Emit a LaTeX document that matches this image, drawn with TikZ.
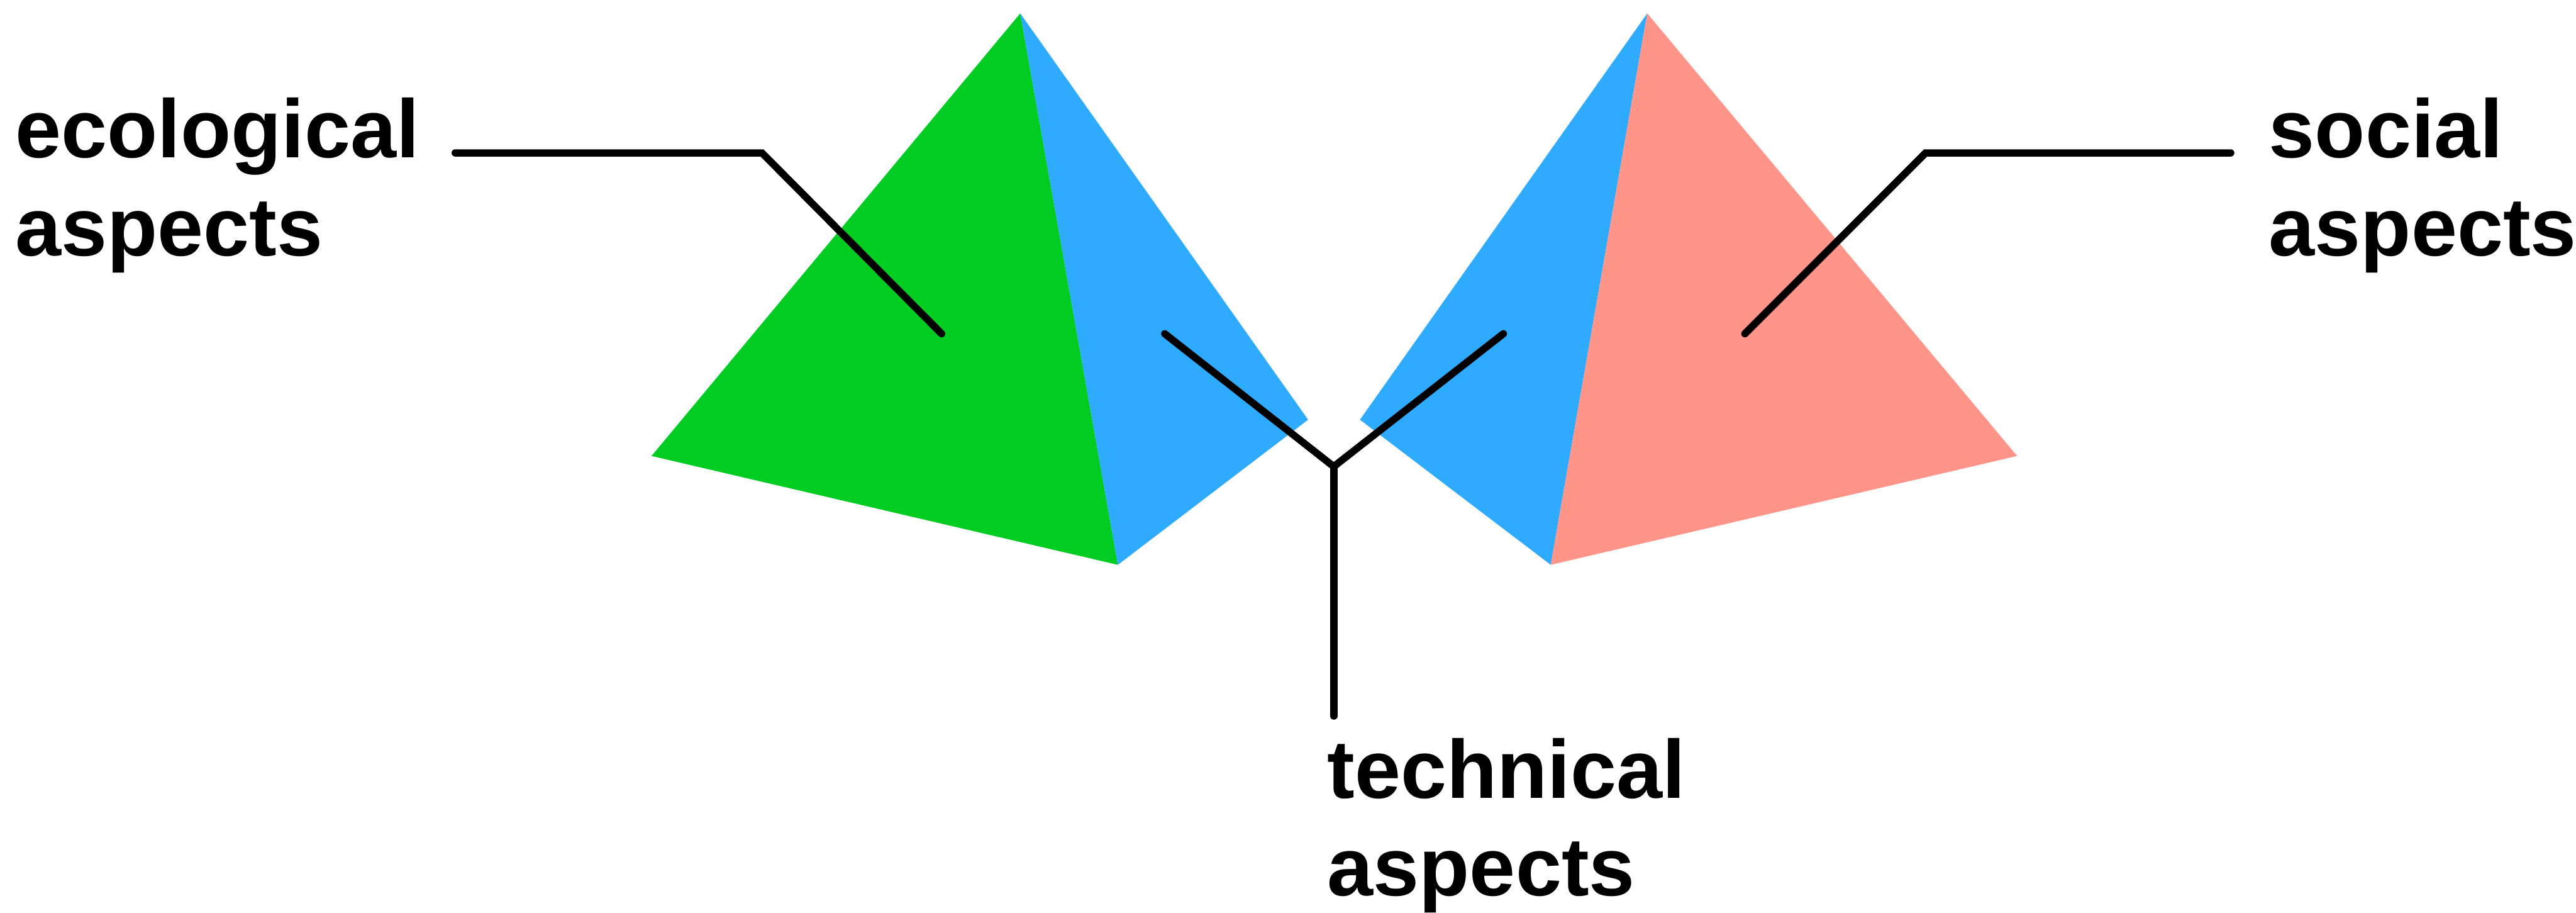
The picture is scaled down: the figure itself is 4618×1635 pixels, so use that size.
\documentclass[tikz,border=0pt]{standalone}
\usepackage{fontspec}
\setmainfont{Liberation Sans}
\begin{document}
\begin{tikzpicture}[x=0.01cm,y=-0.01cm,
  leader/.style={line width=0.13cm, line cap=round, line join=miter},
  aspectlabel/.style={font=\bfseries\fontsize{42.1}{49.8}\selectfont,
    align=left, inner sep=0pt, anchor=base west}]
\definecolor{leafgreen}{RGB}{0,204,34}
\definecolor{skyblue}{RGB}{46,170,255}
\definecolor{salmon}{RGB}{255,148,136}
\useasboundingbox (0,0) rectangle (4618,1635);

% left tetrahedron
\coordinate (la) at (1829,24);
\coordinate (ll) at (1168,817);
\coordinate (lb) at (2004,1012);
\coordinate (lr) at (2345,752);
\fill[leafgreen] (la) -- (ll) -- (lb) -- cycle;
\fill[skyblue] (la) -- (lb) -- (lr) -- cycle;

% right tetrahedron
\coordinate (ra) at (2953,24);
\coordinate (rl) at (2438,752);
\coordinate (rb) at (2780,1012);
\coordinate (rr) at (3616,817);
\fill[skyblue] (ra) -- (rl) -- (rb) -- cycle;
\fill[salmon] (ra) -- (rb) -- (rr) -- cycle;

% labels (anchored on the baseline of their last line)
\node[aspectlabel] (eco) at (27,458) {ecological\\aspects};
\node[aspectlabel] (soc) at (4067,458) {social\\aspects};
\node[aspectlabel] (tech) at (2379,1605) {technical\\aspects};

% leader lines
\coordinate (ecoStart) at (816,274);
\coordinate (ecoBend) at (1366,274);
\coordinate (ecoEnd) at (1688,598);
\draw[leader] (ecoStart) -- (ecoBend) -- (ecoEnd);

\coordinate (techLeft) at (2088,598);
\coordinate (techJoin) at (2391,836);
\coordinate (techRight) at (2695,598);
\coordinate (techFoot) at (2391,1283);
\draw[leader] (techLeft) -- (techJoin) -- (techRight);
\draw[leader] (techJoin) -- (techFoot);

\coordinate (socEnd) at (3128,598);
\coordinate (socBend) at (3452,274);
\coordinate (socStart) at (3999,274);
\draw[leader] (socEnd) -- (socBend) -- (socStart);
\end{tikzpicture}
\end{document}
